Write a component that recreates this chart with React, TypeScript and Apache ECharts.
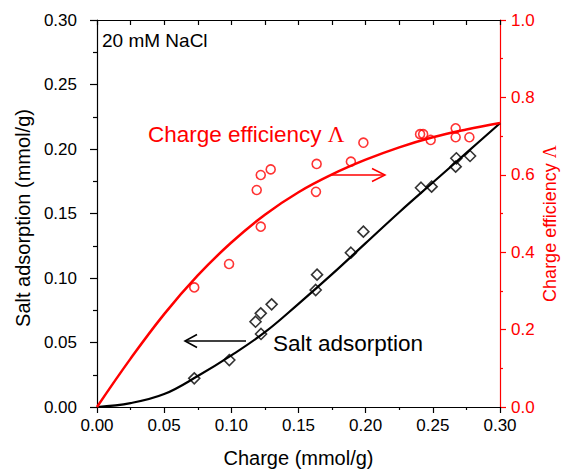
import React, { useEffect, useRef } from 'react';
import * as echarts from 'echarts';

// Salt adsorption (mmol/g) vs charge (mmol/g) — open diamonds
const saltCharge = [0.0724, 0.0985, 0.118, 0.1219, 0.130, 0.1221, 0.1628, 0.1638, 0.189, 0.1983, 0.2412, 0.2491, 0.267, 0.2675, 0.2777];
const saltValues = [0.0222, 0.0364, 0.0661, 0.0726, 0.0796, 0.0566, 0.0907, 0.1026, 0.1196, 0.1359, 0.170, 0.1708, 0.1863, 0.1928, 0.1946];

// Charge efficiency vs charge — open circles
const effCharge = [0.0724, 0.0983, 0.1189, 0.1219, 0.1293, 0.1219, 0.1635, 0.163, 0.189, 0.1983, 0.2405, 0.2428, 0.2484, 0.267, 0.267, 0.2772];
const effValues = [0.309, 0.3695, 0.5607, 0.5995, 0.614, 0.466, 0.628, 0.556, 0.634, 0.683, 0.705, 0.705, 0.690, 0.720, 0.697, 0.697];

// Model curves
const fitCharge = [0, 0.025, 0.05, 0.075, 0.1, 0.125, 0.15, 0.175, 0.2, 0.225, 0.25, 0.275, 0.3];
const fitSalt = [0, 0.003, 0.010, 0.024, 0.040, 0.058, 0.080, 0.103, 0.127, 0.151, 0.174, 0.197, 0.220];
const fitEff = [0, 0.125, 0.240, 0.340, 0.425, 0.497, 0.555, 0.601, 0.639, 0.671, 0.697, 0.717, 0.734];

const RED = '#ff0000';
const FONT = '"Liberation Sans", Arial, Helvetica, sans-serif';
const SERIF = '"Liberation Serif", "Times New Roman", serif';

export default function App() {
  const ref = useRef<HTMLDivElement>(null);

  useEffect(() => {
    if (!ref.current) return;
    const chart = echarts.init(ref.current, null, { renderer: 'svg' });

    const zip = (xs: number[], ys: number[]) => xs.map((x, i) => [x, ys[i]]);

    const option: any = {
      animation: false,
      backgroundColor: '#ffffff',
      grid: { left: 97, top: 20, width: 403, height: 387, containLabel: false, outerBoundsMode: 'none' },
      xAxis: [
        {
          type: 'value',
          position: 'bottom',
          min: 0,
          max: 0.3,
          interval: 0.05,
          name: 'Charge (mmol/g)',
          nameLocation: 'middle',
          nameGap: 41,
          nameMoveOverlap: false,
          nameTextStyle: { fontSize: 20, color: '#000', fontFamily: FONT },
          axisLine: { show: true, onZero: false, lineStyle: { color: '#000', width: 1.2 } },
          axisTick: { show: true, length: 6, lineStyle: { color: '#000', width: 1.2 } },
          minorTick: { show: true, splitNumber: 2, length: 3, lineStyle: { color: '#000', width: 1.2 } },
          axisLabel: { fontSize: 17, color: '#000', margin: 10, fontFamily: FONT, formatter: (v: number) => v.toFixed(2) },
          splitLine: { show: false },
        },
        {
          type: 'value',
          position: 'top',
          min: 0,
          max: 0.3,
          interval: 0.05,
          axisLine: { show: true, onZero: false, lineStyle: { color: '#000', width: 1.2 } },
          axisTick: { show: true, inside: true, length: 5, lineStyle: { color: '#000', width: 1.2 } },
          minorTick: { show: true, splitNumber: 2, length: 5, lineStyle: { color: '#000', width: 1.2 } },
          axisLabel: { show: false },
          splitLine: { show: false },
        },
      ],
      yAxis: [
        {
          type: 'value',
          position: 'left',
          min: 0,
          max: 0.3,
          interval: 0.05,
          name: 'Salt adsorption (mmol/g)',
          nameLocation: 'middle',
          nameGap: 64,
          nameRotate: 90,
          nameMoveOverlap: false,
          nameTextStyle: { fontSize: 20, color: '#000', fontFamily: FONT, padding: [0, 9, 0, 0] },
          axisLine: { show: true, onZero: false, lineStyle: { color: '#000', width: 1.2 } },
          axisTick: { show: true, length: 7, lineStyle: { color: '#000', width: 1.2 } },
          minorTick: { show: true, splitNumber: 2, length: 4, lineStyle: { color: '#000', width: 1.2 } },
          axisLabel: { fontSize: 17, color: '#000', margin: 20, fontFamily: FONT, formatter: (v: number) => v.toFixed(2) },
          splitLine: { show: false },
        },
        {
          type: 'value',
          position: 'right',
          min: 0,
          max: 1,
          interval: 0.2,
          name: 'Charge efficiency {l|Λ}',
          nameLocation: 'middle',
          nameGap: 41,
          nameRotate: 90,
          nameMoveOverlap: false,
          nameTextStyle: {
            fontSize: 18,
            color: RED,
            fontFamily: FONT,
            padding: [0, 20, 0, 0],
            rich: { l: { fontSize: 18, color: RED, fontFamily: SERIF } },
          },
          axisLine: { show: true, onZero: false, lineStyle: { color: RED, width: 1.2 } },
          axisTick: { show: true, length: 6, lineStyle: { color: RED, width: 1.2 } },
          minorTick: { show: true, splitNumber: 2, length: 3, lineStyle: { color: RED, width: 1.2 } },
          axisLabel: { fontSize: 17, color: RED, margin: 11, fontFamily: FONT, formatter: (v: number) => v.toFixed(1) },
          splitLine: { show: false },
        },
      ],
      series: [
        {
          name: 'Salt adsorption fit',
          type: 'line',
          xAxisIndex: 0,
          yAxisIndex: 0,
          data: zip(fitCharge, fitSalt),
          smooth: 0.4,
          showSymbol: false,
          symbol: 'none',
          lineStyle: { color: '#000', width: 2.2 },
          z: 2,
        },
        {
          name: 'Charge efficiency fit',
          type: 'line',
          xAxisIndex: 0,
          yAxisIndex: 1,
          data: zip(fitCharge, fitEff),
          smooth: 0.4,
          showSymbol: false,
          symbol: 'none',
          lineStyle: { color: RED, width: 2.5 },
          z: 2,
        },
        {
          name: 'Salt adsorption',
          type: 'scatter',
          xAxisIndex: 0,
          yAxisIndex: 0,
          data: zip(saltCharge, saltValues),
          symbol: 'diamond',
          symbolSize: 11,
          itemStyle: { color: 'rgba(0,0,0,0)', borderColor: '#000', borderWidth: 1.6 },
          z: 3,
        },
        {
          name: 'Charge efficiency',
          type: 'scatter',
          xAxisIndex: 0,
          yAxisIndex: 1,
          data: zip(effCharge, effValues),
          symbol: 'circle',
          symbolSize: 9,
          itemStyle: { color: 'rgba(0,0,0,0)', borderColor: RED, borderWidth: 1.6 },
          z: 3,
        },
      ],
      graphic: [
        {
          type: 'text',
          style: { x: 102, y: 40, text: '20 mM NaCl', fontSize: 19, fontFamily: FONT, fill: '#000', verticalAlign: 'middle', align: 'left' },
        },
        {
          type: 'text',
          style: {
            x: 148,
            y: 134,
            text: 'Charge efficiency {l|Λ}',
            fontSize: 22.5,
            fontFamily: FONT,
            fill: RED,
            verticalAlign: 'middle',
            align: 'left',
            rich: { l: { fontSize: 23, fontFamily: SERIF, fill: RED, color: RED } },
          },
        },
        {
          type: 'text',
          style: { x: 273, y: 343, text: 'Salt adsorption', fontSize: 22.5, fontFamily: FONT, fill: '#000', verticalAlign: 'middle', align: 'left' },
        },
        {
          type: 'line',
          shape: { x1: 331, y1: 175, x2: 385, y2: 175 },
          style: { stroke: RED, lineWidth: 1.5 },
        },
        {
          type: 'polyline',
          shape: { points: [[372, 168.5], [385, 175], [372, 181.5]] },
          style: { stroke: RED, lineWidth: 1.5, fill: 'none' },
        },
        {
          type: 'line',
          shape: { x1: 246, y1: 341, x2: 185, y2: 341 },
          style: { stroke: '#000', lineWidth: 1.6 },
        },
        {
          type: 'polyline',
          shape: { points: [[197, 334.5], [185, 341], [197, 347.5]] },
          style: { stroke: '#000', lineWidth: 1.6, fill: 'none' },
        },
      ],
    };

    chart.setOption(option);
    return () => chart.dispose();
  }, []);

  return (
    <div
      ref={ref}
      style={{ position: 'fixed', left: 0, top: 0, width: 563, height: 470, background: '#fff' }}
    />
  );
}
